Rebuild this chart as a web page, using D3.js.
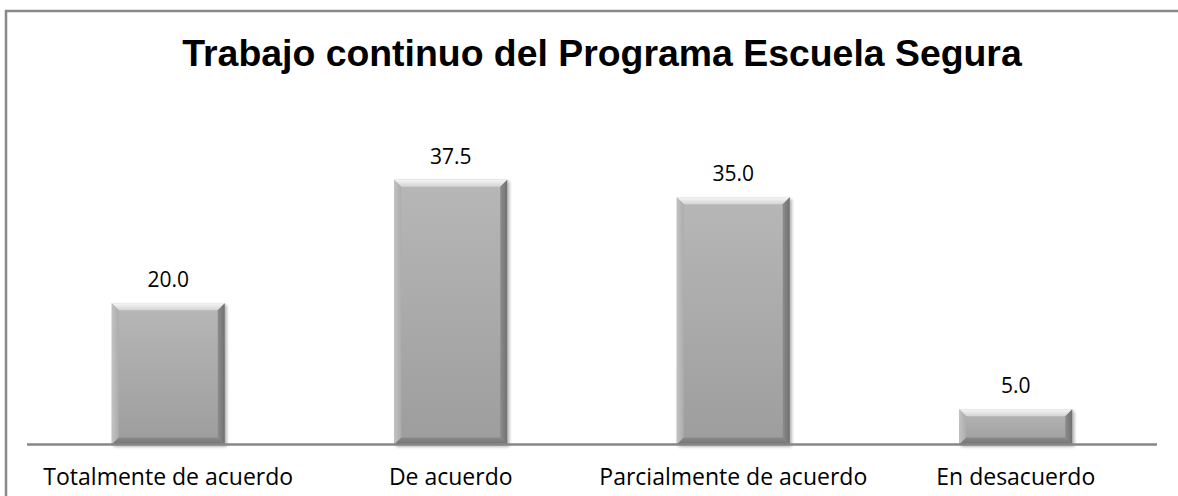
<!DOCTYPE html>
<html>
<head>
<meta charset="utf-8">
<script src="https://cdn.jsdelivr.net/npm/d3@7"></script>
<style>
  body { margin: 0; background: #fff; }
  svg { display: block; }
</style>
</head>
<body>
<svg id="chart" width="1178" height="496"></svg>
<script>
var categories = ["Totalmente de acuerdo", "De acuerdo", "Parcialmente de acuerdo", "En desacuerdo"];
var values = [20.0, 37.5, 35.0, 5.0];
var chartTitle = "Trabajo continuo del Programa Escuela Segura";

var W = 1178, H = 496;
var margin = { left: 27, right: 21, top: 162, bottom: 51.5 };
var bevel = 7;

var svg = d3.select("#chart");
var defs = svg.append("defs");

// gradients for bar faces
function linGrad(id, x2, y2, stops) {
    var g = defs.append("linearGradient").attr("id", id)
        .attr("x1", 0).attr("y1", 0).attr("x2", x2).attr("y2", y2);
    stops.forEach(function(s) {
        g.append("stop").attr("offset", s[0]).attr("stop-color", s[1]);
    });
}
linGrad("face", 0, 1, [[0, "#b7b7b7"], [1, "#9d9d9d"]]);
linGrad("edgeTop", 0, 1, [[0, "#f6f6f6"], [1, "#d4d4d4"]]);
linGrad("edgeLeft", 1, 0, [[0, "#c2c2c2"], [1, "#acacac"]]);
linGrad("edgeRight", 1, 0, [[0, "#8c8c8c"], [1, "#707070"]]);
linGrad("edgeBottom", 0, 1, [[0, "#8a8a8a"], [1, "#727272"]]);

var shadow = defs.append("filter").attr("id", "shadow")
    .attr("x", "-20%").attr("y", "-20%").attr("width", "140%").attr("height", "140%");
shadow.append("feGaussianBlur").attr("in", "SourceAlpha").attr("stdDeviation", 1.5);
shadow.append("feOffset").attr("dx", 2).attr("dy", 2).attr("result", "off");
shadow.append("feComponentTransfer").append("feFuncA").attr("type", "linear").attr("slope", 0.3);
var merge = shadow.append("feMerge");
merge.append("feMergeNode");
merge.append("feMergeNode").attr("in", "SourceGraphic");

// outer frame
svg.append("path")
    .attr("d", "M6,496 V11 H1178")
    .attr("fill", "none").attr("stroke", "#898989").attr("stroke-width", 2.5);

svg.append("text")
    .attr("x", 602).attr("y", 66)
    .attr("text-anchor", "middle")
    .attr("font-family", "Liberation Sans, Arial, sans-serif")
    .attr("font-weight", "bold")
    .attr("font-size", 37.4)
    .attr("fill", "#000")
    .text(chartTitle);

var x = d3.scaleBand().domain(categories)
    .range([margin.left, W - margin.right])
    .paddingInner(0.6).paddingOuter(0.3);
var y = d3.scaleLinear().domain([0, 40]).range([H - margin.bottom, margin.top]);

var bars = svg.append("g").selectAll("g.bar")
    .data(categories.map(function(c, i) { return { cat: c, val: values[i] }; }))
    .join("g").attr("class", "bar").attr("filter", "url(#shadow)");

bars.each(function(d) {
    var g = d3.select(this);
    var x0 = x(d.cat), x1 = x0 + x.bandwidth();
    var y0 = y(d.val), y1 = y(0);
    var b = Math.min(bevel, (y1 - y0) / 2);
    g.append("rect").attr("x", x0).attr("y", y0)
        .attr("width", x1 - x0).attr("height", y1 - y0).attr("fill", "url(#face)");
    var pts = function(a) { return a.map(function(p) { return p.join(","); }).join(" "); };
    g.append("polygon").attr("fill", "url(#edgeTop)")
        .attr("points", pts([[x0, y0], [x1, y0], [x1 - b, y0 + b], [x0 + b, y0 + b]]));
    g.append("polygon").attr("fill", "url(#edgeLeft)")
        .attr("points", pts([[x0, y0], [x0 + b, y0 + b], [x0 + b, y1 - b], [x0, y1]]));
    g.append("polygon").attr("fill", "url(#edgeRight)")
        .attr("points", pts([[x1, y0], [x1, y1], [x1 - b, y1 - b], [x1 - b, y0 + b]]));
    g.append("polygon").attr("fill", "url(#edgeBottom)")
        .attr("points", pts([[x0, y1], [x0 + b, y1 - b], [x1 - b, y1 - b], [x1, y1]]));
});

// value labels
svg.append("g").selectAll("text")
    .data(values)
    .join("text")
    .attr("x", function(d, i) { return x(categories[i]) + x.bandwidth() / 2; })
    .attr("y", function(d) { return y(d) - 16; })
    .attr("text-anchor", "middle")
    .attr("font-family", "Open Sans, sans-serif")
    .attr("font-size", 21)
    .attr("fill", "#000")
    .text(function(d) { return d3.format(".1f")(d); });

// category axis
var axis = svg.append("g").attr("transform", "translate(0," + y(0) + ")")
    .call(d3.axisBottom(x).tickSize(0).tickPadding(24));
axis.select(".domain").attr("stroke", "#868686").attr("stroke-width", 2.5)
    .attr("d", "M" + margin.left + ",0H" + (W - margin.right));
axis.selectAll("text")
    .attr("font-family", "Open Sans, sans-serif")
    .attr("font-size", 23)
    .attr("fill", "#000");
</script>
</body>
</html>
